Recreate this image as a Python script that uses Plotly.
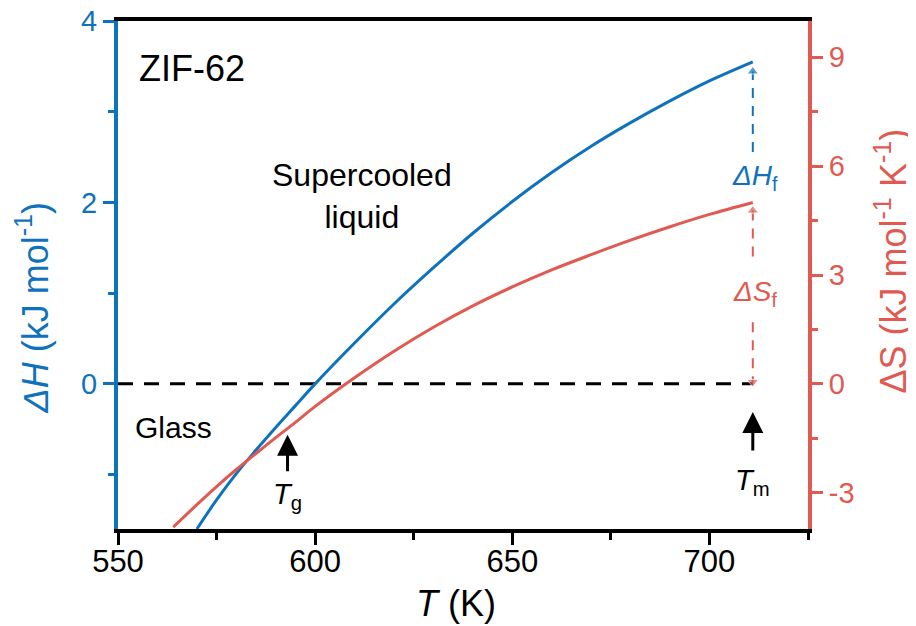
import plotly.graph_objects as go

# ---- data ----
T_H = [570, 575, 580, 585, 590, 595, 600, 610, 620, 630, 640, 650, 660, 670, 680, 690, 700, 711]
dH = [-1.60, -1.28, -0.99, -0.73, -0.48, -0.24, 0.0, 0.45, 0.88, 1.28, 1.66, 2.01, 2.33, 2.62, 2.88, 3.12, 3.34, 3.55]

T_S = [564, 570, 575, 580, 586, 590, 595, 600, 610, 620, 630, 640, 650, 660, 670, 680, 690, 700, 711]
dS = [-3.95, -3.33, -2.83, -2.36, -1.83, -1.48, -1.06, -0.62, 0.17, 0.90, 1.56, 2.15, 2.67, 3.14, 3.56, 3.96, 4.33, 4.67, 5.00]

T_g = 593
T_m = 711
dH_f = 3.55
dS_f = 5.00

x_ticks = [550, 600, 650, 700]
x_minor = [575, 625, 675, 725]
yL_ticks = [0, 2, 4]
yL_minor = [-1, 1, 3]
yR_ticks = [-3, 0, 3, 6, 9]
yR_minor = [-1.5, 1.5, 4.5, 7.5]

BLUE = "#0f72bd"
RED = "#e05a52"
FONT = "Arial, Liberation Sans, sans-serif"

fig = go.Figure()

# zero reference line
fig.add_trace(go.Scatter(x=[550, T_m], y=[0, 0], mode="lines",
                         line=dict(color="black", width=3, dash="15px,11px"),
                         showlegend=False, hoverinfo="skip"))

fig.add_trace(go.Scatter(x=T_S, y=dS, yaxis="y2", mode="lines",
                         line=dict(color=RED, width=3, shape="spline", smoothing=1.0), showlegend=False))
fig.add_trace(go.Scatter(x=T_H, y=dH, mode="lines",
                         line=dict(color=BLUE, width=3, shape="spline", smoothing=1.0), showlegend=False))

# dashed double arrow for dS_f (right axis)
fig.add_trace(go.Scatter(x=[T_m, T_m], y=[dS_f * 0.955, dS_f * 0.66], yaxis="y2", mode="lines+markers",
                         line=dict(color=RED, width=2, dash="10px,8px"),
                         marker=dict(symbol=["triangle-up", "circle"], size=[10, 0], color=RED),
                         showlegend=False, hoverinfo="skip"))
fig.add_trace(go.Scatter(x=[T_m, T_m], y=[dS_f * 0.34, 0.05], yaxis="y2", mode="lines+markers",
                         line=dict(color=RED, width=2, dash="10px,8px"),
                         marker=dict(symbol=["circle", "triangle-down"], size=[0, 10], color=RED),
                         showlegend=False, hoverinfo="skip"))
# dashed arrow for dH_f (left axis)
fig.add_trace(go.Scatter(x=[T_m, T_m], y=[dH_f * 0.72, dH_f * 0.97], mode="lines+markers",
                         line=dict(color=BLUE, width=2, dash="10px,8px"),
                         marker=dict(symbol=["circle", "triangle-up"], size=[0, 10], color=BLUE),
                         showlegend=False, hoverinfo="skip"))

ann = []
# Tg / Tm arrows
for xv, y0, y1 in [(T_g, -0.98, -0.56), (T_m, -0.75, -0.31)]:
    ann.append(dict(x=xv, y=y1, ax=xv, ay=y0, xref="x", yref="y", axref="x", ayref="y",
                    showarrow=True, arrowhead=2, arrowsize=1.4, arrowwidth=3, arrowcolor="black", text=""))
ann.append(dict(x=T_g, y=-1.24, xref="x", yref="y", showarrow=False,
                text="<i>T</i><sub>g</sub>", font=dict(family=FONT, size=29, color="black")))
ann.append(dict(x=T_m, y=-1.08, xref="x", yref="y", showarrow=False,
                text="<i>T</i><sub>m</sub>", font=dict(family=FONT, size=29, color="black")))
ann.append(dict(x=T_m, y=2.28, xref="x", yref="y", showarrow=False, xshift=2,
                text="<i>ΔH</i><sub>f</sub>", font=dict(family=FONT, size=28, color=BLUE)))
ann.append(dict(x=T_m, y=2.5, xref="x", yref="y2", showarrow=False, xshift=2,
                text="<i>ΔS</i><sub>f</sub>", font=dict(family=FONT, size=28, color=RED)))
ann.append(dict(x=554.8, y=3.48, xref="x", yref="y", xanchor="left", showarrow=False,
                text="ZIF-62", font=dict(family=FONT, size=36, color="black")))
ann.append(dict(x=612, y=2.07, xref="x", yref="y", showarrow=False, align="center",
                text="Supercooled<br>liquid", font=dict(family=FONT, size=32, color="black")))
ann.append(dict(x=553.8, y=-0.485, xref="x", yref="y", xanchor="left", showarrow=False,
                text="Glass", font=dict(family=FONT, size=30, color="black")))
# axis titles
ann.append(dict(x=-0.124, y=0.437, xref="paper", yref="paper", showarrow=False, textangle=-90,
                xanchor="center", yanchor="middle",
                text="<i>ΔH</i> (kJ mol<sup>-1</sup>)", font=dict(family=FONT, size=36, color=BLUE)))
ann.append(dict(x=1.12, y=0.528, xref="paper", yref="paper", showarrow=False, textangle=-90,
                xanchor="center", yanchor="middle",
                text="ΔS (kJ mol<sup>-1</sup> K<sup>-1</sup>)", font=dict(family=FONT, size=36, color=RED)))
ann.append(dict(x=0.49, y=-0.146, xref="paper", yref="paper", showarrow=False,
                xanchor="center", yanchor="middle",
                text="<i>T</i> (K)", font=dict(family=FONT, size=36, color="black")))

# the page body adds an 8px offset, so the figure is sized/margined to compensate
fig.update_layout(
    width=908, height=618,
    margin=dict(l=110, r=108, t=13, b=97, autoexpand=False),
    paper_bgcolor="white", plot_bgcolor="white",
    showlegend=False,
    annotations=ann,
    xaxis=dict(range=[550, 725], tickmode="array", tickvals=x_ticks,
               ticktext=[str(v) for v in x_ticks], automargin=False,
               ticks="outside", ticklen=12, tickwidth=3, tickcolor="black",
               ticklabelstandoff=-10, ticklabeloverflow="allow",
               minor=dict(tickmode="array", tickvals=x_minor, ticks="outside", ticklen=7, tickwidth=3, tickcolor="black"),
               showline=True, linecolor="black", linewidth=4, mirror=True,
               showgrid=False, zeroline=False,
               tickfont=dict(family=FONT, size=31, color="black")),
    yaxis=dict(range=[-1.6, 4], tickmode="array", tickvals=yL_ticks,
               ticktext=[str(v) for v in yL_ticks], automargin=False, ticklabeloverflow="allow",
               ticks="outside", ticklen=11, tickwidth=3, tickcolor=BLUE,
               minor=dict(tickmode="array", tickvals=yL_minor, ticks="outside", ticklen=6, tickwidth=3, tickcolor=BLUE),
               showline=True, linecolor=BLUE, linewidth=4,
               showgrid=False, zeroline=False,
               tickfont=dict(family=FONT, size=29, color=BLUE)),
    yaxis2=dict(range=[-4, 10], overlaying="y", side="right", tickmode="array", tickvals=yR_ticks,
                ticktext=[str(v) for v in yR_ticks], automargin=False, ticklabeloverflow="allow",
                ticks="outside", ticklen=11, tickwidth=3, tickcolor=RED,
                minor=dict(tickmode="array", tickvals=yR_minor, ticks="outside", ticklen=6, tickwidth=3, tickcolor=RED),
                showline=True, linecolor=RED, linewidth=4,
                showgrid=False, zeroline=False,
                tickfont=dict(family=FONT, size=29, color=RED)),
)

fig.write_html("out.html")
